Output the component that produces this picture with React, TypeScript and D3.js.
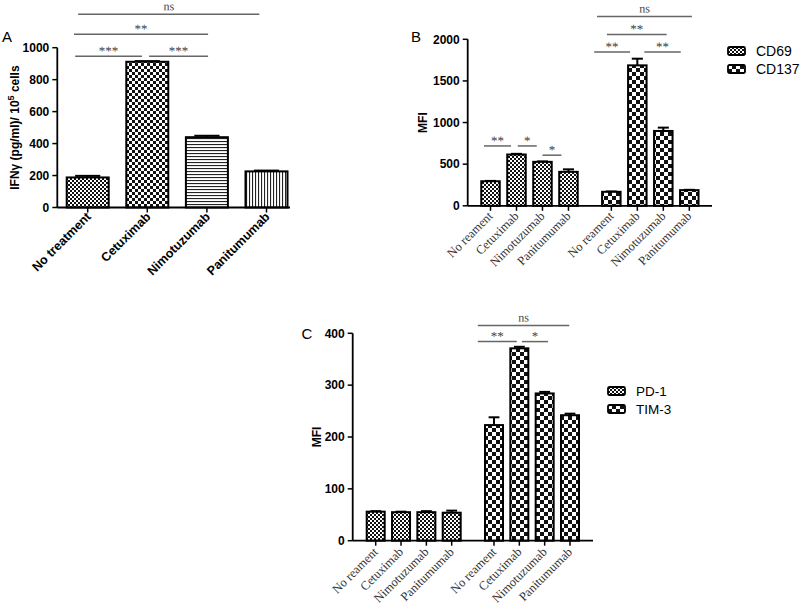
import React from "react";
import * as d3 from "d3";

// ---- data ----
const treatmentsA = ["No treatment", "Cetuximab", "Nimotuzumab", "Panitumumab"];
const ifngMean = [188, 912, 440, 226];
const ifngErr = [10, 4, 9, 5];
const fillsA = ["fine", "checkMid", "hstripe", "vstripe"];

const treatmentsBC = ["No reament", "Cetuximab", "Nimotuzumab", "Panitumumab"];
const markersB = ["CD69", "CD137"];
const cd69Mean = [295, 616, 528, 408];
const cd69Err = [4, 8, 5, 30];
const cd137Mean = [168, 1687, 899, 188];
const cd137Err = [4, 80, 40, 4];

const markersC = ["PD-1", "TIM-3"];
const pd1Mean = [56, 55, 55, 54];
const pd1Err = [1, 1, 2, 4];
const tim3Mean = [223, 371, 284, 242];
const tim3Err = [15, 3, 3, 3];

const ticksA = [0, 200, 400, 600, 800, 1000];
const ticksB = [0, 500, 1000, 1500, 2000];
const ticksC = [0, 100, 200, 300, 400];

// significance brackets: from/to in category-index units, level in data units
const sigA = [
  { from: -0.21, to: 0.91, level: 947, label: "***" },
  { from: 1.03, to: 2.02, level: 947, label: "***" },
  { from: -0.23, to: 2.02, level: 1084, label: "**" },
  { from: -0.16, to: 2.88, level: 1209, label: "ns" },
];
const sigB = [
  { from: -0.25, to: 0.79, level: 719, label: "**" },
  { from: 1.05, to: 1.78, level: 719, label: "*" },
  { from: 2.0, to: 2.73, level: 608, label: "*" },
  { from: 3.99, to: 5.37, level: 1847, label: "**" },
  { from: 5.92, to: 7.32, level: 1847, label: "**" },
  { from: 4.48, to: 6.78, level: 2059, label: "**" },
  { from: 4.1, to: 7.75, level: 2275, label: "ns" },
];
const sigC = [
  { from: 4.03, to: 5.57, level: 384, label: "**" },
  { from: 5.77, to: 6.8, level: 384, label: "*" },
  { from: 4.03, to: 7.64, level: 415, label: "ns" },
];

const SANS = "'Liberation Sans', Arial, sans-serif";
const SERIF = "'Liberation Serif', 'Times New Roman', serif";

type Bar = { i: number; v: number; e: number; fill: string; label: string };

function Patterns() {
  return (
    <defs>
      <pattern id="fine" width="4" height="4" patternUnits="userSpaceOnUse">
        <rect width="4" height="4" fill="#fff" />
        <rect width="2" height="2" fill="#111" />
        <rect x="2" y="2" width="2" height="2" fill="#111" />
      </pattern>
      <pattern id="checkMid" width="6" height="6" patternUnits="userSpaceOnUse">
        <rect width="6" height="6" fill="#fff" />
        <rect width="3" height="3" fill="#111" />
        <rect x="3" y="3" width="3" height="3" fill="#111" />
      </pattern>
      <pattern id="checkBig" width="8" height="8" patternUnits="userSpaceOnUse">
        <rect width="8" height="8" fill="#fff" />
        <rect width="4" height="4" fill="#111" />
        <rect x="4" y="4" width="4" height="4" fill="#111" />
      </pattern>
      <pattern id="hstripe" width="3" height="3" patternUnits="userSpaceOnUse">
        <rect width="3" height="3" fill="#fff" />
        <rect width="3" height="1.1" fill="#222" />
      </pattern>
      <pattern id="vstripe" width="3" height="3" patternUnits="userSpaceOnUse">
        <rect width="3" height="3" fill="#fff" />
        <rect width="1.1" height="3" fill="#222" />
      </pattern>
    </defs>
  );
}

function Panel(props: {
  axisX: number;
  xEnd: number;
  y: d3.ScaleLinear<number, number>;
  x: d3.ScaleLinear<number, number>;
  ticks: number[];
  bars: Bar[];
  barW: number;
  sig: { from: number; to: number; level: number; label: string }[];
  catFont: any;
  catOff: [number, number];
  yLabel: React.ReactNode;
  yLabelX: number;
  letter: string;
  letterPos: [number, number];
}) {
  const { axisX, xEnd, y, x, ticks, bars, barW, sig, catFont, catOff } = props;
  const y0 = y(0);
  const yTop = y(ticks[ticks.length - 1]);
  return (
    <g>
      <text x={props.letterPos[0]} y={props.letterPos[1]} fontFamily={SANS} fontSize={15}>
        {props.letter}
      </text>
      <text
        transform={`translate(${props.yLabelX},${(y0 + yTop) / 2}) rotate(-90)`}
        textAnchor="middle"
        fontFamily={SANS}
        fontWeight="bold"
        fontSize={12}
      >
        {props.yLabel}
      </text>
      {/* bars */}
      {bars.map((b, k) => {
        const cx = x(b.i);
        return (
          <g key={k}>
            <line x1={cx} x2={cx} y1={y(b.v)} y2={y(b.v + b.e)} stroke="#000" strokeWidth={2} />
            <line
              x1={cx - barW * 0.3}
              x2={cx + barW * 0.3}
              y1={y(b.v + b.e)}
              y2={y(b.v + b.e)}
              stroke="#000"
              strokeWidth={2}
            />
            <rect
              x={cx - barW / 2}
              y={y(b.v)}
              width={barW}
              height={y0 - y(b.v)}
              fill={`url(#${b.fill})`}
              stroke="#000"
              strokeWidth={2}
            />
            <line x1={cx} x2={cx} y1={y0} y2={y0 + 5} stroke="#000" strokeWidth={1.5} />
            <text
              transform={`translate(${cx + catOff[0]},${y0 + catOff[1]}) rotate(-45)`}
              textAnchor="end"
              {...catFont}
            >
              {b.label}
            </text>
          </g>
        );
      })}
      {/* axes */}
      <line x1={axisX} x2={axisX} y1={yTop} y2={y0} stroke="#000" strokeWidth={1.8} />
      <line x1={axisX} x2={xEnd} y1={y0} y2={y0} stroke="#000" strokeWidth={1.8} />
      {ticks.map((t) => (
        <g key={t}>
          <line x1={axisX - 5} x2={axisX} y1={y(t)} y2={y(t)} stroke="#000" strokeWidth={1.5} />
          <text
            x={axisX - 8}
            y={y(t)}
            dy="0.35em"
            textAnchor="end"
            fontFamily={SANS}
            fontWeight="bold"
            fontSize={12}
          >
            {t}
          </text>
        </g>
      ))}
      {/* significance */}
      {sig.map((s, k) => {
        const ly = y(s.level);
        const mx = (x(s.from) + x(s.to)) / 2;
        const ty = ly - (s.label === "ns" ? 4 : 1);
        return (
          <g key={k}>
            <line x1={x(s.from)} x2={x(s.to)} y1={ly} y2={ly} stroke="#666" strokeWidth={1.5} />
            <text
              transform={`translate(${mx},${ty}) rotate(0.2)`}
              textAnchor="middle"
              fontFamily={SERIF}
              fontSize={s.label === "ns" ? 12 : 13}
              fill="#444"
            >
              {s.label}
            </text>
          </g>
        );
      })}
    </g>
  );
}

function Legend(props: { x: number; y: number; gap: number; names: string[]; fills: string[]; size: number }) {
  return (
    <g>
      {props.names.map((n, k) => (
        <g key={n} transform={`translate(${props.x},${props.y + k * props.gap})`}>
          <rect x={0} y={-4} width={17} height={8} rx={1.5} fill={`url(#${props.fills[k]})`} stroke="#000" strokeWidth={1.8} />
          <text x={28} y={0} dy="0.35em" fontFamily={SANS} fontSize={props.size}>
            {n}
          </text>
        </g>
      ))}
    </g>
  );
}

export default function App() {
  // panel A
  const yA = d3.scaleLinear().domain([0, 1000]).range([207.5, 47.7]);
  const xA = d3.scaleLinear().domain([0, 3]).range([87.7, 266.5]);
  const barsA: Bar[] = treatmentsA.map((t, i) => ({
    i,
    v: ifngMean[i],
    e: ifngErr[i],
    fill: fillsA[i],
    label: t,
  }));

  // panel B
  const groupOffB = 4.65;
  const yB = d3.scaleLinear().domain([0, 2000]).range([205.8, 39.3]);
  const xB = d3.scaleLinear().domain([0, 3 + groupOffB]).range([490.5, 689.3]);
  const barsB: Bar[] = [
    ...treatmentsBC.map((t, i) => ({ i, v: cd69Mean[i], e: cd69Err[i], fill: "fine", label: t })),
    ...treatmentsBC.map((t, i) => ({ i: i + groupOffB, v: cd137Mean[i], e: cd137Err[i], fill: "checkBig", label: t })),
  ];

  // panel C
  const groupOffC = 4.67;
  const yC = d3.scaleLinear().domain([0, 400]).range([540.7, 333.3]);
  const xC = d3.scaleLinear().domain([0, 3 + groupOffC]).range([375.7, 570]);
  const barsC: Bar[] = [
    ...treatmentsBC.map((t, i) => ({ i, v: pd1Mean[i], e: pd1Err[i], fill: "fine", label: t })),
    ...treatmentsBC.map((t, i) => ({ i: i + groupOffC, v: tim3Mean[i], e: tim3Err[i], fill: "checkBig", label: t })),
  ];

  const boldCat = { fontFamily: SANS, fontWeight: "bold", fontSize: 12.5 };
  const serifCat = { fontFamily: SERIF, fontSize: 12.5, fill: "#333" };

  return (
    <svg
      width={800}
      height={605}
      style={{ position: "absolute", left: 0, top: 0, background: "#fff" }}
    >
      <Patterns />
      <rect width={800} height={605} fill="#fff" />
      <Panel
        axisX={57.3}
        xEnd={290}
        y={yA}
        x={xA}
        ticks={ticksA}
        bars={barsA}
        barW={42}
        sig={sigA}
        catFont={boldCat}
        catOff={[4, 10]}
        yLabel={
          <>
            IFNγ (pg/ml)/ 10<tspan dy={-5} fontSize={9}>5</tspan>
            <tspan dy={5}> cells</tspan>
          </>
        }
        yLabelX={19}
        letter="A"
        letterPos={[2, 42]}
      />
      <Panel
        axisX={467.7}
        xEnd={712}
        y={yB}
        x={xB}
        ticks={ticksB}
        bars={barsB}
        barW={18.5}
        sig={sigB}
        catFont={serifCat}
        catOff={[3, 11]}
        yLabel="MFI"
        yLabelX={427}
        letter="B"
        letterPos={[411, 41.5]}
      />
      <Legend x={728} y={51} gap={18} names={markersB} fills={["fine", "checkBig"]} size={14} />
      <Panel
        axisX={352.7}
        xEnd={593}
        y={yC}
        x={xC}
        ticks={ticksC}
        bars={barsC}
        barW={18}
        sig={sigC}
        catFont={serifCat}
        catOff={[3, 12]}
        yLabel="MFI"
        yLabelX={321}
        letter="C"
        letterPos={[301.5, 338.5]}
      />
      <Legend x={608} y={391} gap={18} names={markersC} fills={["fine", "checkBig"]} size={13.5} />
    </svg>
  );
}
